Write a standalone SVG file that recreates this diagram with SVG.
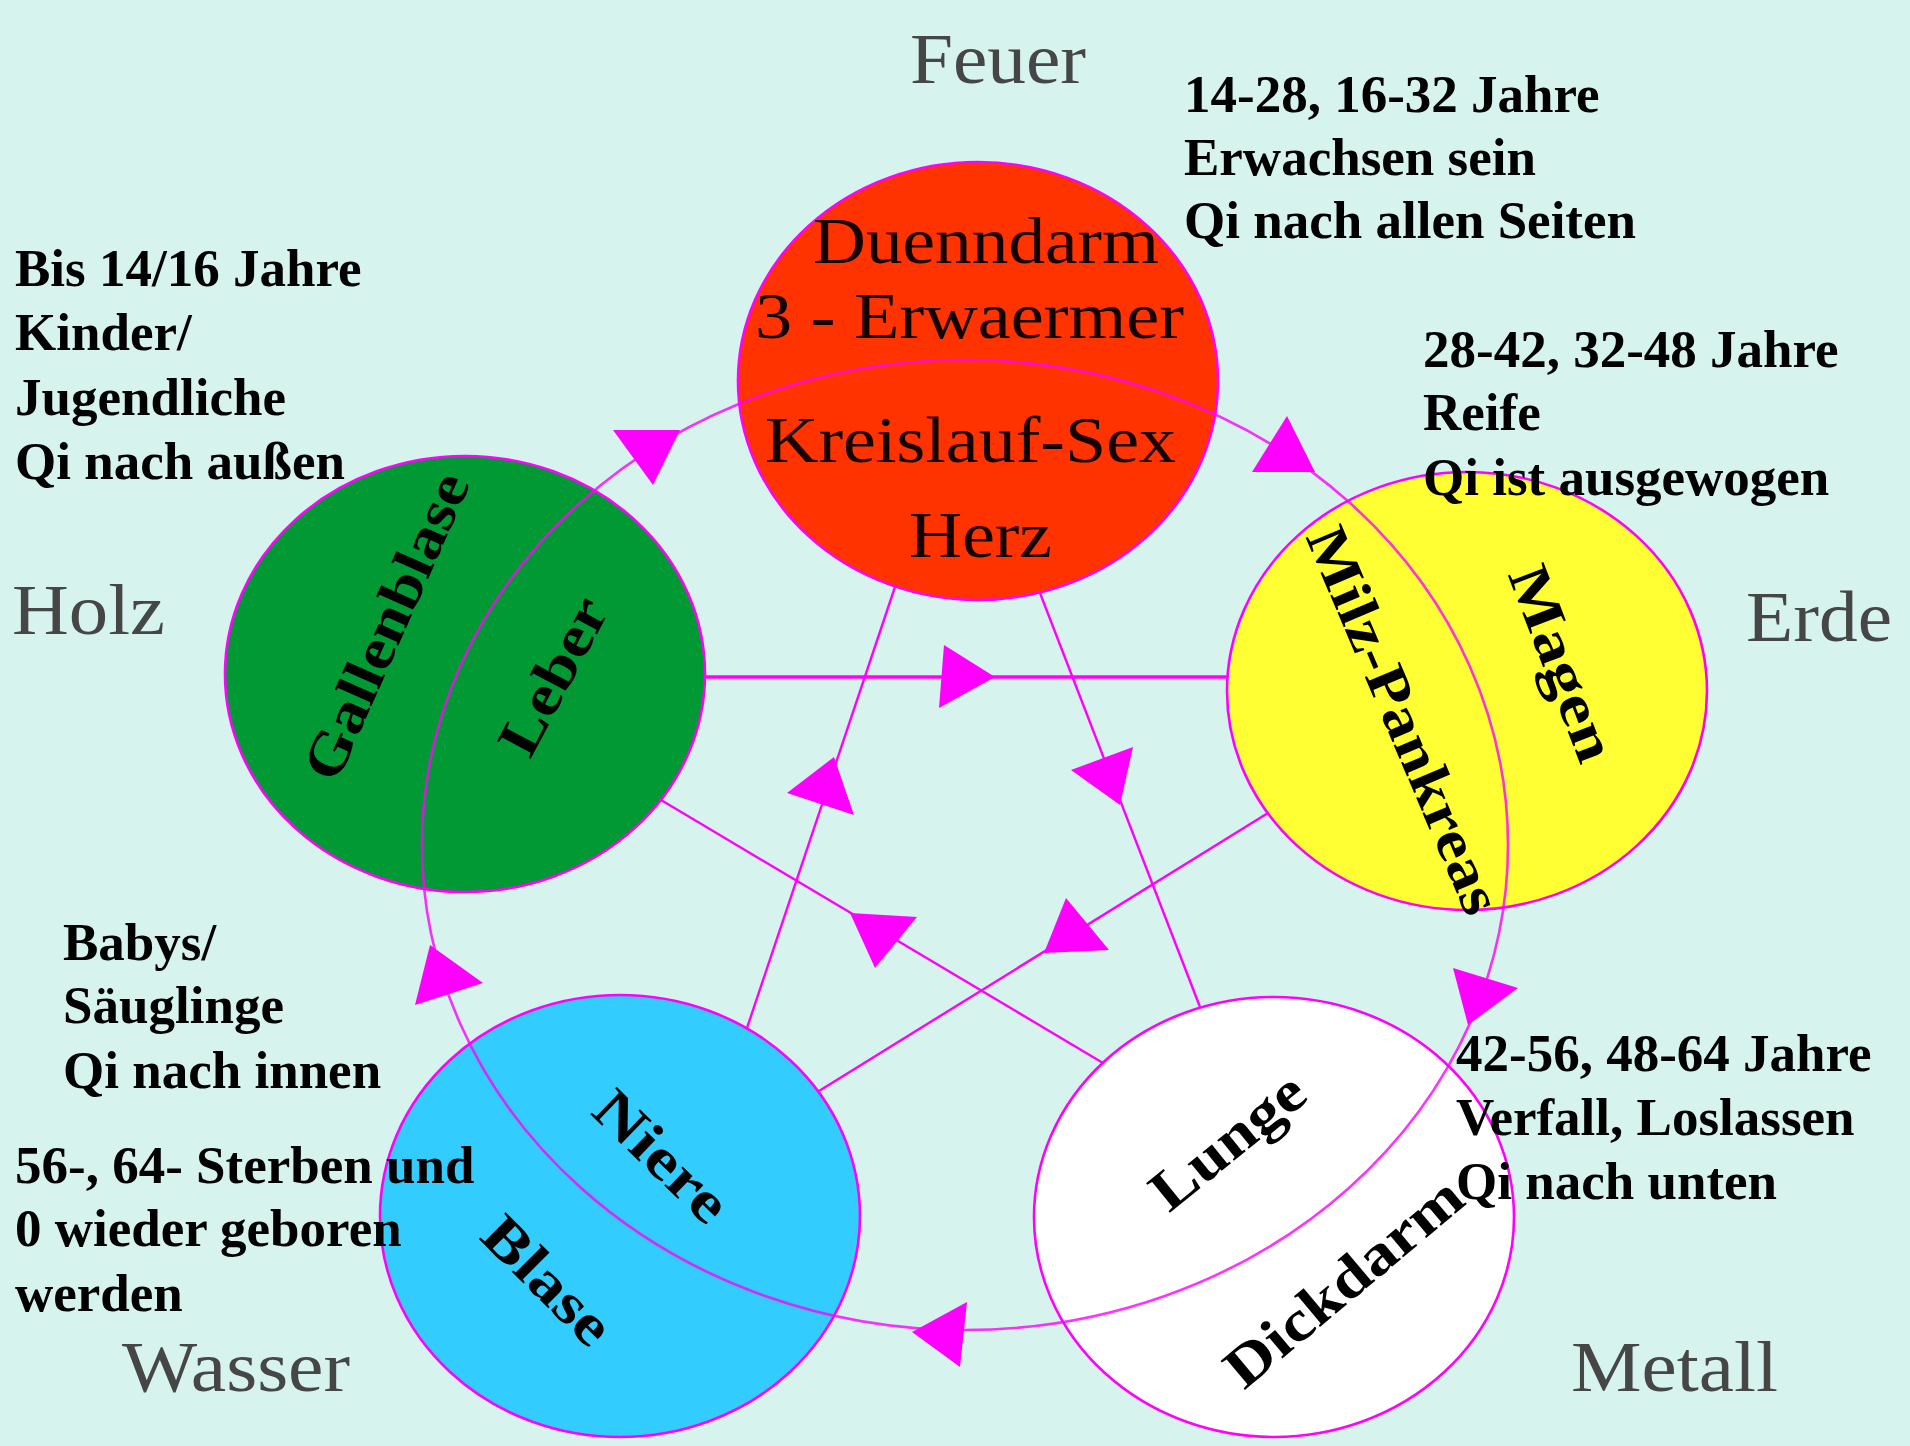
<svg xmlns="http://www.w3.org/2000/svg" width="1910" height="1446" viewBox="0 0 1910 1446">
<style>
.bg{fill:#d6f3ed}
.node{stroke:#ff00ff;stroke-width:2.6}
.t{font-family:"Liberation Serif","Times New Roman",serif}
.el{font-size:71px;fill:#464646}
.info{font-size:53px;font-weight:bold;fill:#000000}
.org{font-size:66px;fill:#140000}
.rot{font-size:58px;font-weight:bold;fill:#000000}
.edge{stroke:#ff00ff;stroke-width:2.4;fill:none}
.edge-main{stroke:#ff00ff;stroke-width:3.5;fill:none}
.cycle{stroke:#ff00ff;stroke-width:2.6;fill:none;stroke-opacity:0.8}
.arr{fill:#ff00ff}
</style>
<rect class="bg" x="0" y="0" width="1910" height="1446"/>

<g id="node-feuer">
<ellipse class="node" cx="978" cy="381" rx="240" ry="219" fill="#ff3300"/>
<text class="t org" x="813" y="263" textLength="346" lengthAdjust="spacingAndGlyphs">Duenndarm</text>
<text class="t org" x="755" y="338" textLength="429" lengthAdjust="spacingAndGlyphs">3 - Erwaermer</text>
<text class="t org" x="765" y="462" textLength="411" lengthAdjust="spacingAndGlyphs">Kreislauf-Sex</text>
<text class="t org" x="909" y="557" textLength="143" lengthAdjust="spacingAndGlyphs">Herz</text>
</g>

<g id="node-holz">
<ellipse class="node" cx="465" cy="674" rx="240" ry="218" fill="#009933"/>
<text class="t rot" transform="translate(388 627) rotate(-66)" x="0" y="17" text-anchor="middle" textLength="330" lengthAdjust="spacingAndGlyphs">Gallenblase</text>
<text class="t rot" transform="translate(555 677) rotate(-62)" x="0" y="17" text-anchor="middle" textLength="170" lengthAdjust="spacingAndGlyphs">Leber</text>
</g>

<g id="node-erde">
<ellipse class="node" cx="1467" cy="691" rx="240" ry="219" fill="#ffff33"/>
<text class="t rot" transform="translate(1402 721) rotate(67)" x="0" y="17" text-anchor="middle" textLength="415" lengthAdjust="spacingAndGlyphs">Milz-Pankreas</text>
<text class="t rot" transform="translate(1560 664) rotate(69)" x="0" y="17" text-anchor="middle" textLength="205" lengthAdjust="spacingAndGlyphs">Magen</text>
</g>

<g id="node-wasser">
<ellipse class="node" cx="620" cy="1216" rx="240" ry="221" fill="#33ccff"/>
<text class="t rot" transform="translate(660 1158) rotate(44)" x="0" y="17" text-anchor="middle" textLength="164" lengthAdjust="spacingAndGlyphs">Niere</text>
<text class="t rot" transform="translate(546 1282) rotate(45)" x="0" y="17" text-anchor="middle" textLength="158" lengthAdjust="spacingAndGlyphs">Blase</text>
</g>

<g id="node-metall">
<ellipse class="node" cx="1274" cy="1217" rx="240" ry="220" fill="#ffffff"/>
<text class="t rot" transform="translate(1229 1143) rotate(-39)" x="0" y="17" text-anchor="middle" textLength="182" lengthAdjust="spacingAndGlyphs">Lunge</text>
<text class="t rot" transform="translate(1345 1284) rotate(-40)" x="0" y="17" text-anchor="middle" textLength="292" lengthAdjust="spacingAndGlyphs">Dickdarm</text>
</g>

<g id="connectors">
<line class="edge-main" x1="705" y1="677" x2="1227" y2="677"/>
<line class="edge" x1="895" y1="587" x2="747" y2="1028"/>
<line class="edge" x1="1040" y1="593" x2="1200" y2="1007"/>
<line class="edge" x1="661" y1="800" x2="1103" y2="1063"/>
<line class="edge" x1="1268" y1="813" x2="819" y2="1091"/>
<polygon class="arr" points="944,645 995,677 939,708"/>
<polygon class="arr" points="834,757 787,793 854,815"/>
<polygon class="arr" points="1133,747 1071,770 1120,805"/>
<polygon class="arr" points="850,913 917,917 875,968"/>
<polygon class="arr" points="1066,898 1109,950 1044,953"/>
<ellipse class="cycle" cx="965" cy="845" rx="543" ry="485"/>
<polygon class="arr" points="613,430 680,430 653,485"/>
<polygon class="arr" points="1287,416 1315,472 1252,472"/>
<polygon class="arr" points="430,945 483,983 415,1005"/>
<polygon class="arr" points="967,1302 912,1332 960,1367"/>
<polygon class="arr" points="1453,968 1518,988 1468,1025"/>
</g>

<g id="element-labels">
<text class="t el" x="910" y="83" textLength="176" lengthAdjust="spacingAndGlyphs">Feuer</text>
<text class="t el" x="12" y="634" textLength="153" lengthAdjust="spacingAndGlyphs">Holz</text>
<text class="t el" x="1746" y="641" textLength="146" lengthAdjust="spacingAndGlyphs">Erde</text>
<text class="t el" x="122" y="1391" textLength="228" lengthAdjust="spacingAndGlyphs">Wasser</text>
<text class="t el" x="1571" y="1391" textLength="207" lengthAdjust="spacingAndGlyphs">Metall</text>
</g>

<g id="info-texts">
<text class="t info" x="1184" y="112">14-28, 16-32 Jahre</text>
<text class="t info" x="1184" y="175">Erwachsen sein</text>
<text class="t info" x="1184" y="238">Qi nach allen Seiten</text>
<text class="t info" x="15" y="286">Bis 14/16 Jahre</text>
<text class="t info" x="15" y="350">Kinder/</text>
<text class="t info" x="15" y="415">Jugendliche</text>
<text class="t info" x="15" y="479">Qi nach außen</text>
<text class="t info" x="1423" y="367">28-42, 32-48 Jahre</text>
<text class="t info" x="1423" y="430">Reife</text>
<text class="t info" x="1423" y="495">Qi ist ausgewogen</text>
<text class="t info" x="63" y="960">Babys/</text>
<text class="t info" x="63" y="1023">Säuglinge</text>
<text class="t info" x="63" y="1088">Qi nach innen</text>
<text class="t info" x="15" y="1183">56-, 64- Sterben und</text>
<text class="t info" x="15" y="1246">0 wieder geboren</text>
<text class="t info" x="15" y="1311">werden</text>
<text class="t info" x="1456" y="1071">42-56, 48-64 Jahre</text>
<text class="t info" x="1456" y="1135">Verfall, Loslassen</text>
<text class="t info" x="1456" y="1199">Qi nach unten</text>
</g>
</svg>
